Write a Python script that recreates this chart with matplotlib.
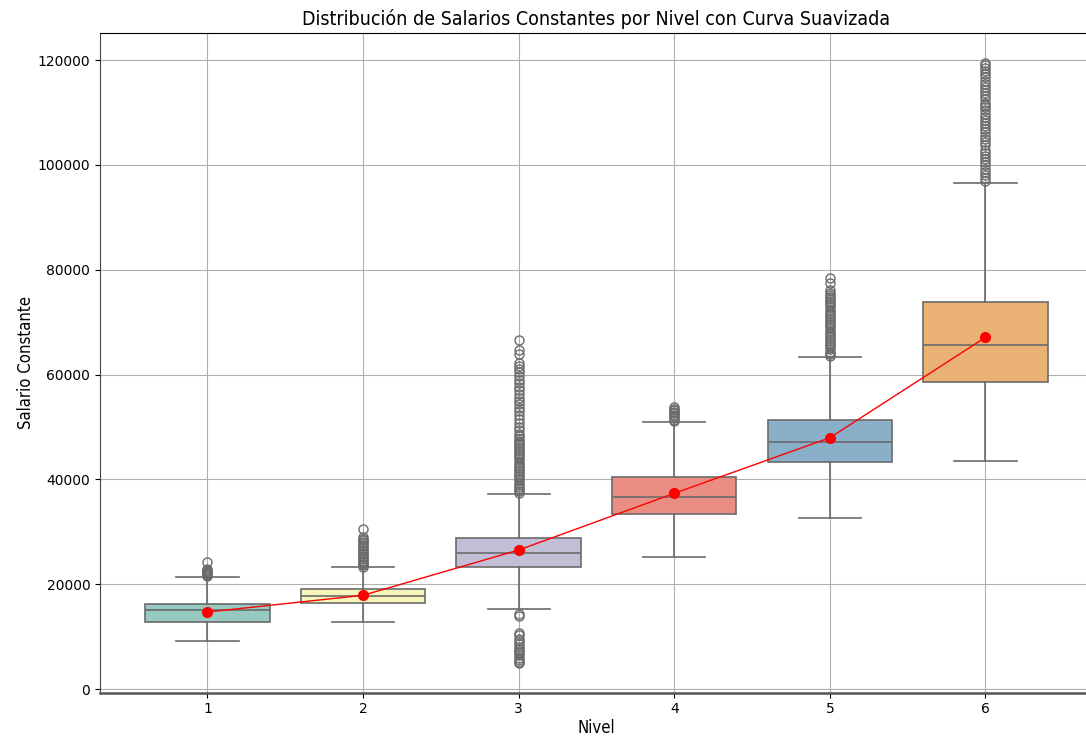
import matplotlib
matplotlib.use("Agg")
import matplotlib.pyplot as plt
from matplotlib.colors import to_rgb
import colorsys

# ---- data ----
niveles = ["1", "2", "3", "4", "5", "6"]
q1 = [12730, 16350, 23330, 33390, 43250, 58510]
medianas = [15015, 17690, 26000, 36630, 47065, 65630]
q3 = [16220, 19080, 28870, 40500, 51320, 73780]
bigote_inf = [9100, 12780, 15260, 25240, 32570, 43440]
bigote_sup = [21370, 23220, 37260, 50940, 63400, 96480]
medias = [14690, 17880, 26520, 37340, 47940, 67100]

outliers_1 = [21500, 21700, 21900, 22100, 22300, 22500, 22700, 22900, 24300]
outliers_2 = [23300, 23600, 23900, 24200, 24500, 24800, 25100, 25400, 25700, 26000,
              26300, 26600, 26900, 27200, 27500, 27800, 28100, 28400, 28700, 29000, 30500]
outliers_3 = [37400, 37800, 38200, 38600, 39000, 39400, 39800, 40200, 40600, 41000,
              41400, 41800, 42200, 42600, 43000, 43400, 43800, 44200, 44600, 45000,
              45400, 45800, 46200, 46600, 47000, 47400, 47800, 48200, 48600,
              49400, 50000, 50700, 51500, 52300, 53000, 53600, 54300, 55000, 55600,
              56300, 57000, 57600, 58300, 59000, 59700, 60400, 61000, 61600, 62200,
              64000, 64700, 66600,
              14300, 13900, 10700, 10300, 9600, 9100, 8600, 8100, 7600, 7200,
              6800, 6400, 6000, 5600, 5200, 5000]
outliers_4 = [51100, 51400, 51700, 52000, 52300, 52600, 52900, 53200, 53500, 53800]
outliers_5 = [63600, 64000, 64400, 64800, 65200, 65600, 66000, 66400, 66800, 67200,
              67600, 68000, 68400, 68800, 69200, 69600, 70000, 70400, 70800, 71200,
              71600, 72000, 72400, 72800, 73200, 73600, 74000, 74400, 74800, 75200,
              75500, 76100, 77400, 78400]
outliers_6 = [96900, 97500, 98100, 98700, 99300, 99900, 100500, 101100, 101700, 102300, 102800,
              103800, 104400, 105000, 105600, 106200, 106800, 107400, 108000, 108600,
              109200, 109800, 110400, 111000, 111400,
              111900, 112500, 113100, 113700, 114300, 114900, 115500, 116100, 116700,
              117300, 117900, 118500, 119000, 119500]
outliers = [outliers_1, outliers_2, outliers_3, outliers_4, outliers_5, outliers_6]

set3 = ["#8dd3c7", "#ffffb3", "#bebada", "#fb8072", "#80b1d3", "#fdb462"]


def desat(c, prop=0.75):
    h, l, s = colorsys.rgb_to_hls(*to_rgb(c))
    return colorsys.hls_to_rgb(h, l, s * prop)


colores = [desat(c) for c in set3]
gris = "#6b6b6b"

fig = plt.figure(figsize=(10.86, 7.37), dpi=100)
ax = fig.add_axes([0.0921, 0.0601, 0.9142, 0.8953])

stats = []
for i in range(len(niveles)):
    stats.append(dict(med=medianas[i], q1=q1[i], q3=q3[i],
                      whislo=bigote_inf[i], whishi=bigote_sup[i],
                      fliers=outliers[i], label=niveles[i]))

pos = list(range(len(niveles)))
bp = ax.bxp(stats, positions=pos, widths=0.8, patch_artist=True,
            showfliers=True,
            boxprops=dict(edgecolor=gris, linewidth=1.2),
            medianprops=dict(color=gris, linewidth=1.2),
            whiskerprops=dict(color=gris, linewidth=1.2),
            capprops=dict(color=gris, linewidth=1.2),
            flierprops=dict(marker="o", markerfacecolor="none",
                            markeredgecolor=gris, markersize=6.5,
                            markeredgewidth=1.0))
for patch, c in zip(bp["boxes"], colores):
    patch.set_facecolor(c)

ax.plot(pos, medias, color="red", marker="o", markersize=7, linewidth=1.0,
        zorder=5)

ax.set_xlim(-0.69, 5.69)
ax.set_ylim(-706, 125200)
ax.set_xticks(pos)
ax.set_xticklabels(niveles)
ax.grid(True)
ax.set_axisbelow(True)
ax.spines["bottom"].set_linewidth(1.8)
ax.spines["bottom"].set_color("#555555")
ax.spines["left"].set_color("#444444")

ax.set_title("Distribución de Salarios Constantes por Nivel con Curva Suavizada",
             fontsize=14, fontstretch="condensed")
ax.set_xlabel("Nivel", fontsize=12, fontstretch="condensed", labelpad=1.5)
ax.set_ylabel("Salario Constante", fontsize=12, fontstretch="condensed", labelpad=2)

fig.savefig("out.png", dpi=100)
